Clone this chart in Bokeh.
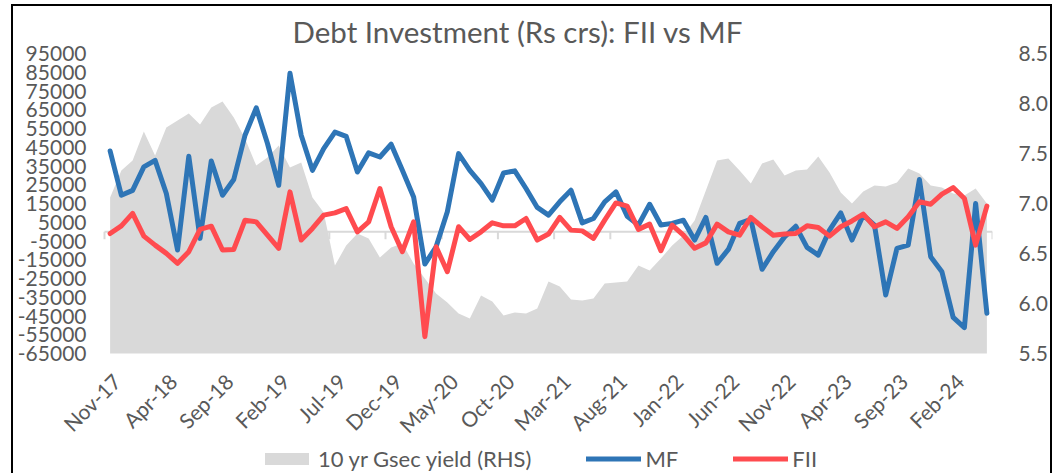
import math
import pandas as pd
from bokeh.plotting import figure
from bokeh.models import (Range1d, LinearAxis, FixedTicker, PrintfTickFormatter,
                          Legend, LegendItem, ColumnDataSource)
from bokeh.layouts import column
from bokeh.embed import file_html
from bokeh.resources import INLINE

# ---------------- data ----------------
months = list(pd.date_range("2017-11-01", periods=79, freq="MS").strftime("%b-%y"))

mf = [43000, 19400, 22000, 34500, 38000, 20300, -9800, 40200, -3600, 37700,
      19400, 27800, 51400, 66000, 47000, 24700, 84500, 51400, 32700, 44300,
      53100, 50800, 31800, 42000, 39800, 46600, 32700, 18500, -17300, -8100,
      10600, 41600, 32700, 25600, 16800, 31300, 32400, 23000, 12900, 8800,
      15900, 22100, 4700, 7000, 15900, 21200, 8200, 3500, 14600, 3500,
      4400, 6100, -4500, 7600, -16900, -9500, 4400, 6500, -20100, -10700,
      -2800, 2900, -8400, -12500, 800, 10000, -4500, 8800, 3500, -33800,
      -8900, -7200, 27800, -13400, -21400, -45700, -51200, 15000, -43500]

fii = [-1000, 3100, 9700, -2400, -7200, -11600, -16900, -10700, 1200, 2900,
       -9800, -9500, 6100, 5200, -1900, -8900, 21200, -4500, 1700, 8800,
       10000, 12300, -100, 5200, 23000, 2600, -10700, 5200, -56000, -8100,
       -21400, 2600, -4200, -100, 4700, 3100, 3100, 7000, -4500, -1300,
       7600, 800, 400, -3600, 6100, 15300, 13600, 1200, 4000, -10200,
       3500, -1900, -8900, -6000, 4000, -100, -1900, 7600, 2600, -1900,
       -1300, -1000, 3100, 2200, -2400, 2600, 5700, 9300, 2600, 5200,
       1700, 7900, 15900, 14600, 20000, 23500, 17700, -7200, 13600]

gsec = [7.06, 7.33, 7.43, 7.72, 7.48, 7.76, 7.83, 7.90, 7.79, 7.96,
        8.02, 7.86, 7.65, 7.38, 7.46, 7.58, 7.36, 7.41, 7.06, 6.91,
        6.38, 6.58, 6.70, 6.65, 6.46, 6.56, 6.60, 6.40, 6.25, 6.10,
        6.01, 5.90, 5.85, 6.08, 6.02, 5.88, 5.91, 5.90, 5.95, 6.22,
        6.17, 6.04, 6.03, 6.05, 6.20, 6.21, 6.22, 6.38, 6.33, 6.45,
        6.58, 6.68, 6.83, 7.13, 7.43, 7.45, 7.33, 7.20, 7.40, 7.44,
        7.28, 7.33, 7.34, 7.47, 7.31, 7.11, 7.00, 7.12, 7.18, 7.17,
        7.21, 7.35, 7.30, 7.18, 7.16, 7.10, 7.08, 7.15, 7.00]

left_ticks = list(range(-65000, 95001, 10000))
right_ticks = [5.5, 6.0, 6.5, 7.0, 7.5, 8.0, 8.5]
label_every = 5

TITLE = "Debt Investment (Rs crs): FII vs MF"
FONT = "Lato"
TXT = "#595959"
GREY = "#D9D9D9"
BLUE = "#2E75B6"
RED = "#FF4B4F"

# ---------------- layout geometry (pixels) ----------------
PLOT_W = 888          # width of the category area
PLOT_H = 300          # height of the value area
PAD_L = 89            # frame room left of the category area (month labels / y labels)
FRAME_H = 420         # frame also holds the month labels and legend below the value area
LABEL_GAP = 15        # gap between value area bottom and month labels
YLAB_GAP = 18         # gap between y labels and value area

n = len(months)
cat_px = PLOT_W / n
x_lo = -0.5 - PAD_L / cat_px
l_span = left_ticks[-1] - left_ticks[0]
r_span = right_ticks[-1] - right_ticks[0]
ext = (FRAME_H - PLOT_H) / PLOT_H
y_lo = left_ticks[-1] - l_span * (1 + ext)
r_lo = right_ticks[-1] - r_span * (1 + ext)

src = ColumnDataSource(dict(x=list(range(n)), mf=mf, fii=fii, gsec=gsec))

p = figure(frame_width=PAD_L + PLOT_W, frame_height=FRAME_H,
           x_range=Range1d(x_lo, n - 0.5),
           y_range=Range1d(y_lo, left_ticks[-1]),
           output_backend="svg", toolbar_location=None,
           min_border_left=2, min_border_right=56,
           min_border_top=39, min_border_bottom=0,
           background_fill_color="white", border_fill_color="white",
           outline_line_color=None)
p.extra_y_ranges = {"yld": Range1d(r_lo, right_ticks[-1])}
p.grid.visible = False
p.xaxis.visible = False

area = p.varea(x="x", y1=right_ticks[0], y2="gsec", source=src,
               y_range_name="yld", fill_color=GREY)

# category axis line at zero with tick marks every 5 months
p.segment(x0=[-0.5], y0=[0], x1=[n - 0.5], y1=[0], line_color=GREY, line_width=2)
bnds = [i - 0.5 for i in range(0, n, label_every)] + [n - 0.5]
p.segment(x0=bnds, y0=[0] * len(bnds), x1=bnds, y1=[-4000] * len(bnds),
          line_color=GREY, line_width=2)

mf_r = p.line("x", "mf", source=src, line_color=BLUE, line_width=5,
              line_join="round", line_cap="round")
fii_r = p.line("x", "fii", source=src, line_color=RED, line_width=5,
               line_join="round", line_cap="round")

# month labels (category axis), rotated 45 degrees
lab_idx = list(range(0, n, label_every))
lab_y = left_ticks[0] - l_span * LABEL_GAP / PLOT_H
p.text(x=[i - 0.2 for i in lab_idx], y=[lab_y] * len(lab_idx),
       text=[months[i] for i in lab_idx], angle=math.pi / 4,
       text_align="right", text_baseline="top",
       text_font={"value": FONT}, text_font_size={"value": "21px"},
       text_color=TXT)

# left axis: labels drawn into the frame's left margin
ya = p.yaxis[0]
ya.ticker = FixedTicker(ticks=left_ticks)
ya.formatter = PrintfTickFormatter(format="%d")
ya.axis_line_color = None
ya.major_tick_line_color = None
ya.minor_tick_line_color = None
ya.major_tick_out = 0
ya.major_tick_in = 0
ya.major_label_standoff = -(PAD_L - YLAB_GAP)
ya.major_label_text_font = FONT
ya.major_label_text_font_size = "21px"
ya.major_label_text_color = TXT

# right axis
ra = LinearAxis(y_range_name="yld", ticker=FixedTicker(ticks=right_ticks),
                formatter=PrintfTickFormatter(format="%.1f"))
ra.axis_line_color = None
ra.major_tick_line_color = None
ra.minor_tick_line_color = None
ra.major_tick_out = 0
ra.major_label_standoff = 26
ra.major_label_text_font = FONT
ra.major_label_text_font_size = "21px"
ra.major_label_text_color = TXT
p.add_layout(ra, "right")

# title
p.title.text = TITLE
p.title.text_font = FONT
p.title.text_font_size = "29.5px"
p.title.text_font_style = "normal"
p.title.text_color = TXT
p.title.align = "left"
p.title.offset = 188 + PAD_L

# legend
legend = Legend(items=[LegendItem(label="10 yr Gsec yield (RHS)", renderers=[area]),
                       LegendItem(label="MF", renderers=[mf_r]),
                       LegendItem(label="FII", renderers=[fii_r])],
                orientation="horizontal", location=(244, 1),
                glyph_width=55, glyph_height=15, label_height=15,
                label_standoff=4, spacing=55, padding=0, margin=0,
                border_line_color=None, background_fill_alpha=0,
                label_text_font=FONT, label_text_font_size="22px",
                label_text_color=TXT)
p.add_layout(legend)

layout = column(p, margin=(4, 0, 0, 11),
                styles={"border-left": "2px solid #000",
                        "border-top": "2px solid #000",
                        "border-right": "2px solid #000"})

open("out.html", "w").write(file_html(layout, INLINE))
